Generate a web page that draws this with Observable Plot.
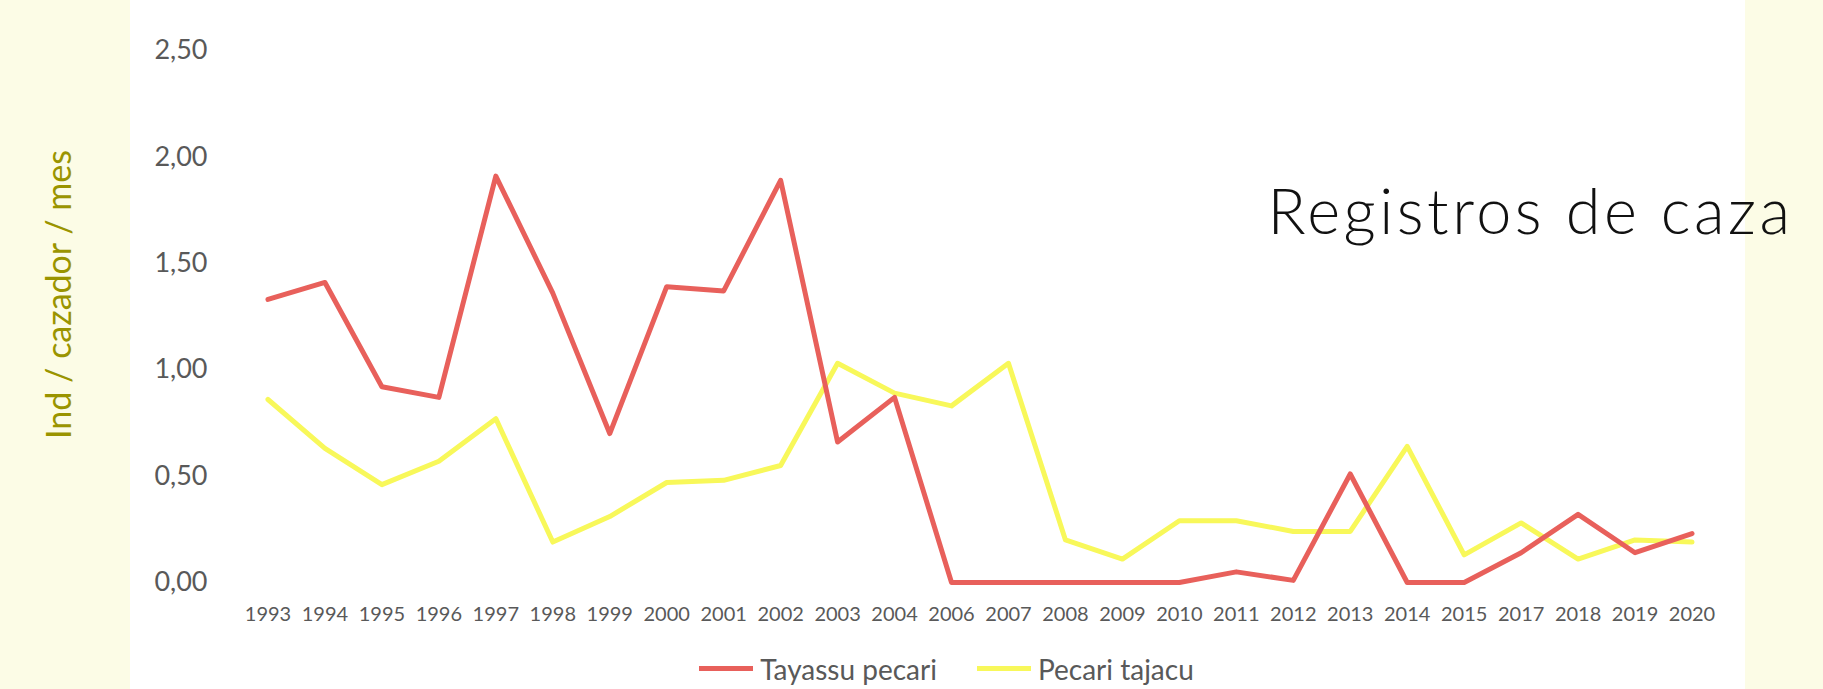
<!DOCTYPE html>
<html>
<head>
<meta charset="utf-8">
<script src="https://cdn.jsdelivr.net/npm/d3@7"></script>
<script src="https://cdn.jsdelivr.net/npm/@observablehq/plot@0.6"></script>
<style>
  html, body { margin: 0; padding: 0; }
  body {
    width: 1823px; height: 689px; overflow: hidden;
    background: linear-gradient(to right, #fcfce6 0px, #fcfce6 130px, #ffffff 130px, #ffffff 1745px, #fcfce6 1745px);
    font-family: Lato, "Open Sans", sans-serif;
  }
  #chart { position: relative; width: 1823px; }
  #legend {
    height: 49px; display: flex; justify-content: center; align-items: center;
    gap: 40px; font-size: 28px; color: #595959; padding-left: 70px; padding-top: 8px; box-sizing: border-box;
  }
  .item { display: flex; align-items: center; gap: 7px; }
  .swatch { width: 54px; height: 5px; }
  .title-text text { letter-spacing: 3.5px; }
</style>
</head>
<body>
<div id="chart"></div>
<div id="legend"></div>
<script>
const years = ["1993","1994","1995","1996","1997","1998","1999","2000","2001","2002","2003","2004","2006","2007","2008","2009","2010","2011","2012","2013","2014","2015","2017","2018","2019","2020"];
const tayassuPecari = [1.33,1.41,0.92,0.87,1.91,1.36,0.70,1.39,1.37,1.89,0.66,0.87,0.00,0.00,0.00,0.00,0.00,0.05,0.01,0.51,0.00,0.00,0.14,0.32,0.14,0.23];
const pecariTajacu = [0.86,0.63,0.46,0.57,0.77,0.19,0.31,0.47,0.48,0.55,1.03,0.89,0.83,1.03,0.20,0.11,0.29,0.29,0.24,0.24,0.64,0.13,0.28,0.11,0.20,0.19];
const seriesNames = ["Tayassu pecari", "Pecari tajacu"];
const seriesColors = ["#e8605b", "#f8f85a"];
const yTicks = [0, 0.5, 1, 1.5, 2, 2.5];
const yLabel = "Ind / cazador / mes";
const title = "Registros de caza";

const rows = [];
years.forEach((y, i) => {
  rows.push({year: y, value: tayassuPecari[i], series: seriesNames[0]});
  rows.push({year: y, value: pecariTajacu[i], series: seriesNames[1]});
});

const fmt = d => d.toFixed(2).replace(".", ",");

const chart = Plot.plot({
  width: 1823,
  height: 640,
  marginLeft: 239,
  marginRight: 103,
  marginTop: 50,
  marginBottom: 58,
  style: {background: "transparent", fontFamily: "Lato, 'Open Sans', sans-serif"},
  x: {type: "point", domain: years, padding: 0.5, round: false},
  y: {domain: [0, 2.5]},
  color: {domain: seriesNames, range: seriesColors},
  marks: [
    Plot.axisY(yTicks, {tickSize: 0, tickPadding: 32, tickFormat: fmt, fontSize: 27, fill: "#595959", label: null}),
    Plot.axisX({tickSize: 0, tickPadding: 24, fontSize: 20, fill: "#595959", label: null}),
    Plot.line(rows.filter(d => d.series === seriesNames[1]), {x: "year", y: "value", stroke: "series", strokeWidth: 5, strokeLinejoin: "round"}),
    Plot.line(rows.filter(d => d.series === seriesNames[0]), {x: "year", y: "value", stroke: "series", strokeWidth: 5, strokeLinejoin: "round"}),
    Plot.text([title], {frameAnchor: "top-left", dx: 1028, dy: 163, textAnchor: "start", lineAnchor: "middle", fontSize: 63, fontWeight: 300, fill: "#111111", className: "title-text"}),
    Plot.text([yLabel], {frameAnchor: "left", textAnchor: "middle", dx: -179, dy: -22, rotate: -90, fontSize: 34, fill: "#9a9400"})
  ]
});
document.getElementById("chart").appendChild(chart);

const legend = document.getElementById("legend");
seriesNames.forEach((name, i) => {
  const item = document.createElement("div");
  item.className = "item";
  const sw = document.createElement("span");
  sw.className = "swatch";
  sw.style.background = seriesColors[i];
  const label = document.createElement("span");
  label.textContent = name;
  item.appendChild(sw);
  item.appendChild(label);
  legend.appendChild(item);
});
</script>
</body>
</html>
